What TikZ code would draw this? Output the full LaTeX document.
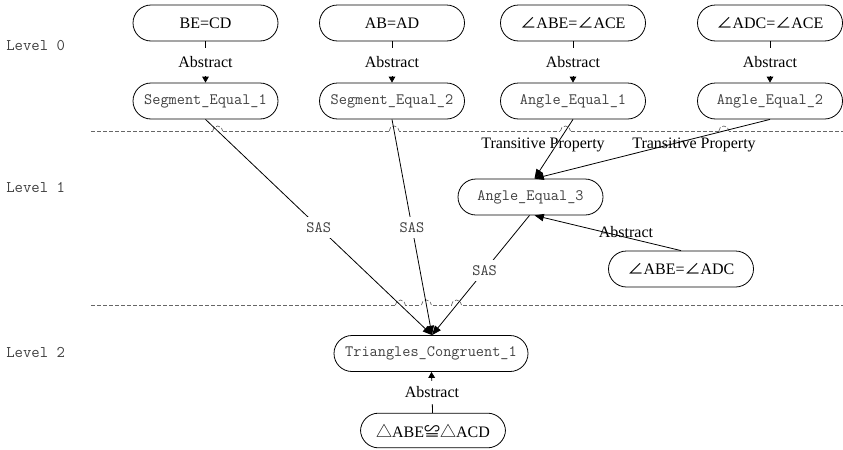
\documentclass[tikz,border=0pt]{standalone}
\usepackage{fontspec}
\setmainfont{Liberation Serif}
\setmonofont{Latin Modern Mono}
\newfontfamily\cjk{Noto Sans CJK SC}
\usetikzlibrary{arrows.meta,calc,intersections}

\begin{document}
\begin{tikzpicture}[x=0.75pt,y=-0.75pt,
  every node/.style={inner sep=0pt},
  fact/.style={draw, line width=0.6pt, rounded corners=13.5pt,
    minimum width=108.75pt, minimum height=27pt,
    font=\fontsize{12}{14}\selectfont},
  concept/.style={fact, font=\ttfamily\fontsize{11.9}{13}\selectfont, text=black!75},
  link/.style={line width=0.6pt, -{Triangle[length=7pt,width=5.5pt]}},
  short link/.style={line width=0.6pt, -{Triangle[length=4.5pt,width=5pt]}},
  lbl/.style={font=\fontsize{12}{14}\selectfont},
  abslbl/.style={lbl, fill=white, inner xsep=1pt},
  sas/.style={font=\ttfamily\fontsize{11.9}{13}\selectfont, text=black!75,
    fill=white, inner xsep=1pt, inner ysep=4pt},
  level/.style={font=\ttfamily\fontsize{12.2}{13}\selectfont, text=black!75, anchor=west},
  sep/.style={dash pattern=on 3pt off 1.5pt, line width=0.5pt, draw=black!60}
]
\useasboundingbox (0,0) rectangle (843,450);

% level captions
\node[level] (lv0) at (6,46) {Level 0};
\node[level] (lv1) at (6,187) {Level 1};
\node[level] (lv2) at (6,352) {Level 2};

% given facts (level 0)
\node[fact] (t1) at (205.5,23) {BE=CD};
\node[fact] (t2) at (392,23) {AB=AD};
\node[fact] (t3) at (573,23) {{\cjk ∠}ABE={\cjk ∠}ACE};
\node[fact] (t4) at (770,23) {{\cjk ∠}ADC={\cjk ∠}ACE};

\node[concept] (s1) at (205.5,101) {Segment\_Equal\_1};
\node[concept] (s2) at (392,101) {Segment\_Equal\_2};
\node[concept] (a1) at (573,101) {Angle\_Equal\_1};
\node[concept] (a2) at (770,101) {Angle\_Equal\_2};

% level 1
\node[concept] (a3) at (530.5,197) {Angle\_Equal\_3};
\node[fact] (r) at (681,269) {{\cjk ∠}ABE={\cjk ∠}ADC};

% level 2
\node[concept, minimum width=145.5pt] (tc) at (431,353.5) {Triangles\_Congruent\_1};
\node[fact, minimum height=26pt] (b) at (433,430.5) {{\cjk △}ABE{\cjk ≌}{\cjk △}ACD};

% level separators
\coordinate (d1w) at (91,131);
\coordinate (d1e) at (843,131);
\coordinate (d2w) at (91,305);
\coordinate (d2e) at (843,305);
\path[name path=d1] (d1w) -- (d1e);
\path[name path=d2] (d2w) -- (d2e);

% edge geometry, used for the line jumps
\coordinate (tcin) at ($(tc.north)+(1,0)$);
\coordinate (a3in) at ($(a3.north)+(4,0)$);
\coordinate (a3out) at ($(a3.south)+(-1,0)$);
\coordinate (a3in2) at ($(a3.south)+(4,0)$);
\path[name path=e1] (s1.south) -- (tcin);
\path[name path=e2] (s2.south) -- (tcin);
\path[name path=e3] (a3out) -- (tcin);
\path[name path=e4] (a1.south) -- (a3in);
\path[name path=e5] (a2.south) -- (a3in);
\path[name intersections={of=e1 and d1, by=j1}];
\path[name intersections={of=e2 and d1, by=j2}];
\path[name intersections={of=e4 and d1, by=j3}];
\path[name intersections={of=e5 and d1, by=j4}];
\path[name intersections={of=e1 and d2, by=j5}];
\path[name intersections={of=e2 and d2, by=j6}];
\path[name intersections={of=e3 and d2, by=j7}];

\draw[sep] (d1w) -- (d1e);
\draw[sep] (d2w) -- (d2e);
\foreach \j in {j1,j2,j3,j4,j5,j6,j7}{
  \fill[white] ($(\j)+(-5,-1.2)$) rectangle ($(\j)+(5,1.2)$);
  \draw[sep] ($(\j)+(-5,0)$) arc[start angle=180, end angle=360, radius=5];
}

% abstraction edges
\draw[short link] (t1) -- node[abslbl, minimum height=21pt] {Abstract} (s1);
\draw[short link] (t2) -- node[abslbl, minimum height=21pt] {Abstract} (s2);
\draw[short link] (t3) -- node[abslbl, minimum height=21pt] {Abstract} (a1);
\draw[short link] (t4) -- node[abslbl, minimum height=21pt] {Abstract} (a2);
\draw[short link] (b) -- node[abslbl, minimum height=17pt] {Abstract} (tc);

% reasoning edges
\draw[link] (s1.south) -- node[sas, pos=0.5] {SAS} (tcin);
\draw[link] (s2.south) -- node[sas, pos=0.5] {SAS} (tcin);
\draw[link] (a3out) -- node[sas, pos=0.46] {SAS} (tcin);
\draw[link] (a1.south) -- (a3in);
\draw[link] (a2.south) -- (a3in);
\draw[link] (r.north) -- (a3in2);

\node[lbl] (tp1) at (543,145) {Transitive Property};
\node[lbl] (tp2) at (694,145) {Transitive Property};
\node[lbl] (ab) at (626,232) {Abstract};

\end{tikzpicture}
\end{document}
